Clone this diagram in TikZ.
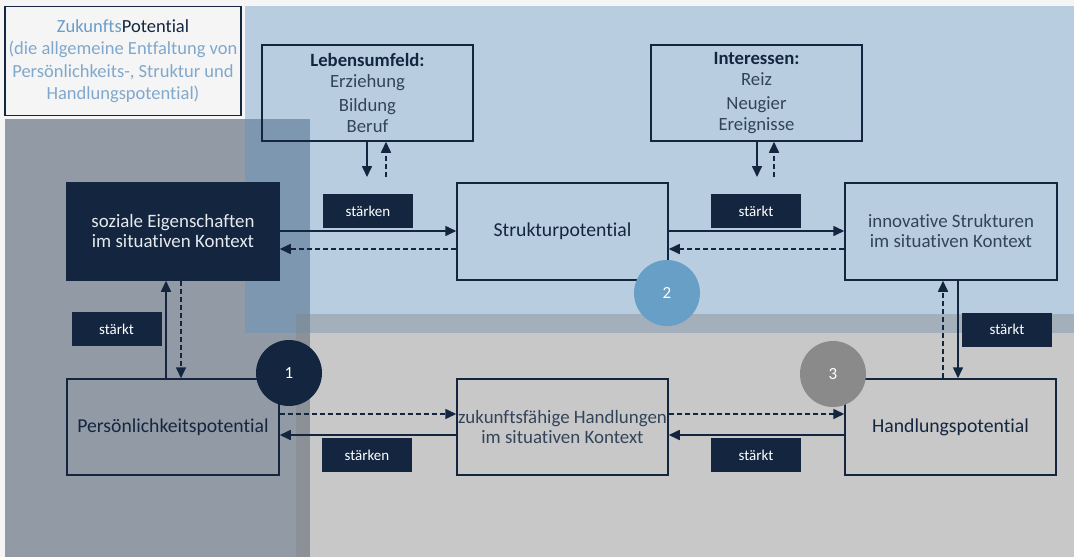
\documentclass[tikz,border=0pt]{standalone}
\usepackage{fontspec}
\setmainfont{Carlito}[Ligatures=NoCommon]
\usetikzlibrary{arrows.meta}
\definecolor{navy}{HTML}{14263F}
\definecolor{bgc}{HTML}{F5F5F5}
\definecolor{blueA}{HTML}{6194C2}
\definecolor{grayA}{HTML}{838383}
\definecolor{circB}{HTML}{689FC6}
\definecolor{circG}{HTML}{8A8A8A}
\definecolor{lighttext}{HTML}{33445A}
\definecolor{titleblue}{HTML}{6A9DC8}
\definecolor{subblue}{HTML}{80A8CC}
\definecolor{softwhite}{HTML}{E6E9EE}
\begin{document}
\begin{tikzpicture}[x=1pt,y=-1pt,
  box/.style={draw=navy, line width=1.5pt, minimum width=211pt, minimum height=96pt, inner sep=0pt, align=center},
  mainfont/.style={font=\fontsize{19.7}{20}\selectfont, text=navy},
  lightfont/.style={font=\fontsize{18.9}{20}\selectfont, text=lighttext},
  lbl/.style={fill=navy, text=white, minimum width=90pt, minimum height=34pt, inner sep=0pt, font=\fontsize{15}{18}\selectfont},
  num/.style={circle, minimum size=66pt, inner sep=0pt, text=white, font=\fontsize{17}{20}\selectfont},
  sol/.style={draw=navy, line width=1.6pt, -{Triangle[length=11pt,width=10pt]}},
  das/.style={sol, dash pattern=on 5pt off 3pt},
]
\useasboundingbox (0,0) rectangle (1074,557);
\fill[bgc] (0,0) rectangle (1074,557);
\fill[navy, fill opacity=0.44] (5,119) rectangle (310,557);
\fill[blueA, fill opacity=0.41] (245,6) rectangle (1074,333);
\fill[grayA, fill opacity=0.39] (296,314) rectangle (1074,557);

% title box
\node[draw=navy, line width=1.2pt, fill=bgc, minimum width=236pt, minimum height=109pt, inner sep=0pt, align=center,
      font=\fontsize{18.5}{22.5}\selectfont, text=subblue] (tit) at (123,61)
  {\textcolor{titleblue}{Zukunfts}\textcolor{navy}{Potential}\\(die allgemeine Entfaltung von\\Persönlichkeits-, Struktur und\\Handlungspotential)};

% boxes
\node[box, font=\fontsize{18.7}{20.5}\selectfont, text=lighttext] (leb) at (367.5,93)
  {\textbf{\textcolor{navy}{Lebensumfeld:}}\\Erziehung\\[4pt]Bildung\\Beruf};
\node[box, font=\fontsize{18.7}{20.5}\selectfont, text=lighttext] (int) at (756.5,93)
  {\textbf{\textcolor{navy}{Interessen:}}\\Reiz\\[4pt]Neugier\\Ereignisse};
\node[box, fill=navy, minimum width=212pt, minimum height=97pt, lightfont, text=softwhite] (soz) at (173,231.5)
  {soziale Eigenschaften\\im situativen Kontext};
\node[box, minimum height=97pt, mainfont] (str) at (562.5,231.5) {Strukturpotential};
\node[box, minimum width=212pt, minimum height=97pt, lightfont] (inn) at (951,231.5)
  {innovative Strukturen\\im situativen Kontext};
\node[box, minimum width=212pt, mainfont] (per) at (173,427) {Persönlichkeitspotential};
\node[box, lightfont] (zuk) at (562.5,427) {zukunftsfähige Handlungen\\im situativen Kontext};
\node[box, mainfont] (han) at (950.5,427) {Handlungspotential};

% free ends
\coordinate (lebS) at (367,177);
\coordinate (lebD) at (386,177);
\coordinate (intS) at (757,177);
\coordinate (intD) at (774,177);

% vertical arrows
\draw[sol] (leb.south -| lebS) -- (lebS);
\draw[das] (lebD) -- (leb.south -| lebD);
\draw[sol] (int.south -| intS) -- (intS);
\draw[das] (intD) -- (int.south -| intD);
\draw[sol] (per.north -| 166,0) -- (soz.south -| 166,0);
\draw[das] (soz.south -| 181,0) -- (per.north -| 181,0);
\draw[das] (han.north -| 943,0) -- (inn.south -| 943,0);
\draw[sol] (inn.south -| 958,0) -- (han.north -| 958,0);

% horizontal arrows
\draw[sol] (soz.east |- 0,231) -- (str.west |- 0,231);
\draw[das] (str.west |- 0,249) -- (soz.east |- 0,249);
\draw[sol] (str.east |- 0,231) -- (inn.west |- 0,231);
\draw[das] (inn.west |- 0,249) -- (str.east |- 0,249);
\draw[das] (per.east |- 0,414) -- (zuk.west |- 0,414);
\draw[sol] (zuk.west |- 0,435) -- (per.east |- 0,435);
\draw[das] (zuk.east |- 0,414) -- (han.west |- 0,414);
\draw[sol] (han.west |- 0,435) -- (zuk.east |- 0,435);

% labels
\node[lbl] (l1) at (368,211) {stärken};
\node[lbl] (l2) at (756,211) {stärkt};
\node[lbl] (l3) at (116.5,329) {stärkt};
\node[lbl] (l4) at (1007,329.5) {stärkt};
\node[lbl] (l5) at (367,455) {stärken};
\node[lbl] (l6) at (756,455) {stärkt};

% circles
\node[num, fill=navy] (c1) at (289,373) {1};
\node[num, fill=circB] (c2) at (667,293) {2};
\node[num, fill=circG] (c3) at (833,374) {3};
\end{tikzpicture}
\end{document}
